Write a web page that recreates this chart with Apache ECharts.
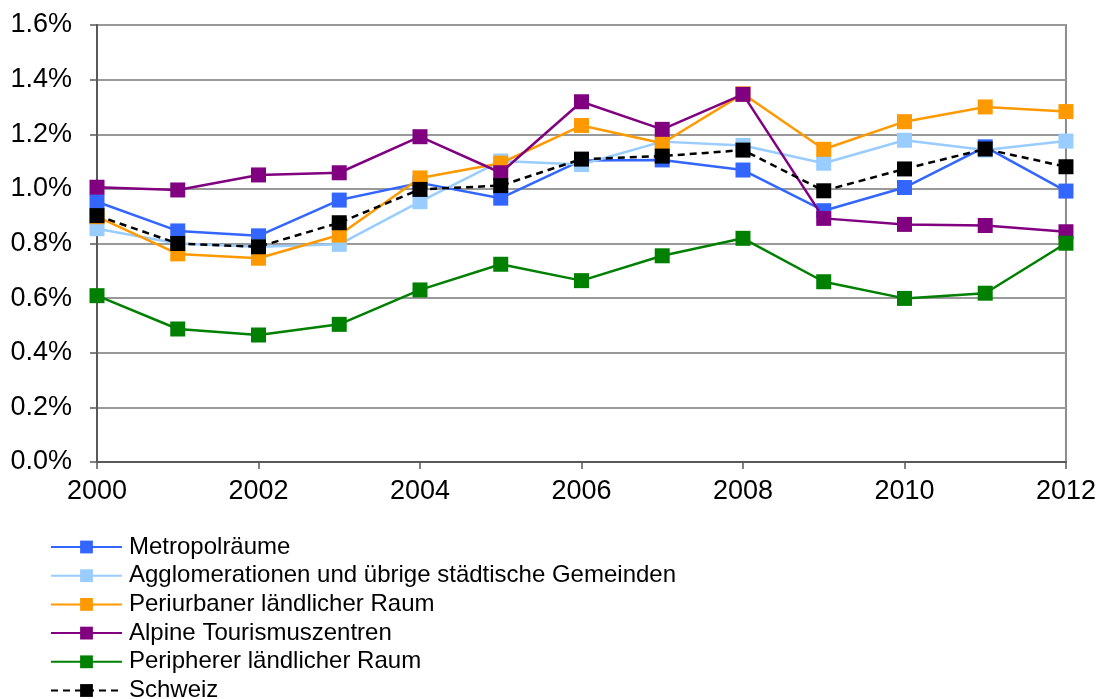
<!DOCTYPE html>
<html>
<head>
<meta charset="utf-8">
<script src="https://cdn.jsdelivr.net/npm/echarts@6/dist/echarts.min.js"></script>
<style>html,body{margin:0;padding:0;background:#fff}#c{width:1099px;height:699px}</style>
</head>
<body>
<div id="c"></div>
<script>
const years = ['2000','2001','2002','2003','2004','2005','2006','2007','2008','2009','2010','2011','2012'];
const yTicks = [0, 0.2, 0.4, 0.6, 0.8, 1.0, 1.2, 1.4, 1.6];
const metropol = [0.953, 0.846, 0.828, 0.959, 1.022, 0.966, 1.104, 1.106, 1.069, 0.920, 1.005, 1.154, 0.992];
const agglo = [0.854, 0.800, 0.788, 0.797, 0.953, 1.102, 1.089, 1.173, 1.159, 1.094, 1.178, 1.142, 1.175];
const periurban = [0.898, 0.762, 0.746, 0.831, 1.040, 1.094, 1.232, 1.167, 1.348, 1.145, 1.246, 1.300, 1.283];
const alpine = [1.006, 0.996, 1.051, 1.059, 1.191, 1.059, 1.319, 1.218, 1.346, 0.892, 0.870, 0.866, 0.843];
const peripher = [0.609, 0.487, 0.465, 0.504, 0.630, 0.724, 0.664, 0.755, 0.819, 0.660, 0.599, 0.618, 0.801];
const schweiz = [0.902, 0.800, 0.788, 0.876, 0.998, 1.012, 1.109, 1.120, 1.142, 0.993, 1.073, 1.146, 1.081];

const names = ['Metropolräume','Agglomerationen und übrige städtische Gemeinden','Periurbaner ländlicher Raum','Alpine Tourismuszentren','Peripherer ländlicher Raum','Schweiz'];
const colors = ['#3366FF','#99CCFF','#FF9900','#800080','#008000','#000000'];
const datas = [metropol, agglo, periurban, alpine, peripher, schweiz];

const font = 'Liberation Sans, Arial, sans-serif';
const chart = echarts.init(document.getElementById('c'), null, {renderer:'canvas'});
chart.setOption({
  animation: false,
  backgroundColor: '#fff',
  grid: {left: 97, right: 32, top: 25, bottom: 237, show: true, borderColor: '#8c8c8c', borderWidth: 2, backgroundColor: 'transparent'},
  legend: {
    orient: 'vertical', left: 50, top: 535, height: 200, padding: 0,
    itemWidth: 71, itemHeight: 16, itemGap: 4.7,
    textStyle: {fontFamily: font, fontSize: 24, color: '#000', padding: [0, 0, 0, 2]},
    data: names
  },
  xAxis: {
    type: 'category', data: years, boundaryGap: false,
    axisLine: {lineStyle: {color: '#595959', width: 2}},
    axisTick: {show: true, interval: 1, length: 7, lineStyle: {color: '#595959', width: 1.5}},
    axisLabel: {interval: 1, fontFamily: font, fontSize: 27, color: '#000', margin: 16},
    splitLine: {show: false}
  },
  yAxis: {
    type: 'value', min: 0, max: 1.6, interval: 0.2,
    axisLine: {show: true, lineStyle: {color: '#595959', width: 2}},
    axisTick: {show: true, length: 7, lineStyle: {color: '#595959', width: 1.5}},
    axisLabel: {fontFamily: font, fontSize: 27, color: '#000', margin: 25,
      formatter: v => v.toFixed(1) + '%'},
    splitLine: {lineStyle: {color: '#999999', width: 2}}
  },
  series: names.map((n, i) => ({
    name: n, type: 'line', data: datas[i],
    symbol: 'rect', symbolSize: 15,
    showAllSymbol: true,
    lineStyle: {color: colors[i], width: 2.5, type: i === 5 ? [7, 5] : 'solid'},
    itemStyle: {color: colors[i], borderWidth: 0},
    z: 2 + i
  }))
});
</script>
</body>
</html>
